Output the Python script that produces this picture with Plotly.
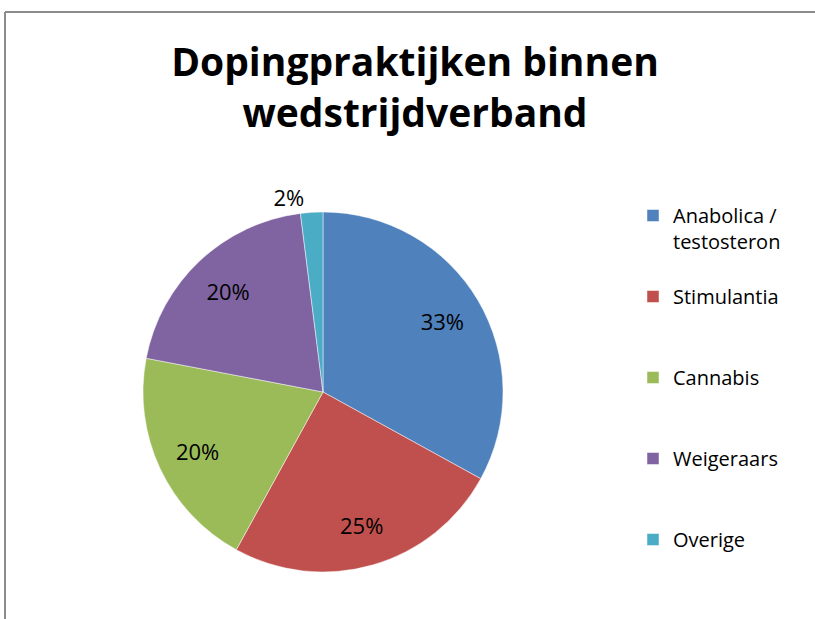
import plotly.graph_objects as go

# Data
categories = ["Anabolica / testosteron", "Stimulantia", "Cannabis", "Weigeraars", "Overige"]
legend_labels = [" <br>Anabolica /<br>testosteron", " <br>Stimulantia<br> ", " <br>Cannabis<br> ",
                 " <br>Weigeraars<br> ", " <br>Overige<br> "]
values = [33, 25, 20, 20, 2]
text_labels = ["33%", "25%", "20%", "20%", "2%"]
colors = ["#4F81BD", "#C0504D", "#9BBB59", "#8064A2", "#4BACC6"]
title_text = "Dopingpraktijken binnen<br>wedstrijdverband"

W, H = 815, 619
pie_domain = dict(x=[143 / W, 503 / W], y=[1 - 572 / H, 1 - 212 / H])

fig = go.Figure()
# coloured slices (legend source)
fig.add_trace(go.Pie(
    labels=legend_labels,
    values=values,
    textinfo="none",
    marker=dict(colors=colors, line=dict(color="rgba(255,255,255,0.6)", width=0.8)),
    sort=False,
    direction="clockwise",
    rotation=0,
    hoverinfo="skip",
    domain=pie_domain,
))
# transparent ring carrying the percentage labels
fig.add_trace(go.Pie(
    labels=legend_labels,
    values=values,
    text=text_labels,
    textinfo="text",
    textposition=["inside", "inside", "inside", "inside", "outside"],
    insidetextorientation="horizontal",
    textfont=dict(family="Open Sans", size=22, color="#000000"),
    marker=dict(colors=["rgba(0,0,0,0)"] * len(values), line=dict(width=0)),
    hole=0.54,
    sort=False,
    direction="clockwise",
    rotation=0,
    hoverinfo="skip",
    showlegend=False,
    domain=pie_domain,
))

fig.update_layout(
    width=W, height=H,
    margin=dict(l=0, r=0, t=0, b=0, autoexpand=False),
    paper_bgcolor="white",
    plot_bgcolor="white",
    title=dict(text=title_text, x=415 / W, xanchor="center", xref="container",
               y=1 - 76 / H, yanchor="top", yref="container",
               font=dict(family="Open Sans", size=39, color="#000000", weight="bold")),
    legend=dict(x=633 / W, xanchor="left", xref="paper",
                y=1 - 170 / H, yanchor="top", yref="paper",
                font=dict(family="Open Sans", size=20, color="#000000"),
                bgcolor="rgba(0,0,0,0)", itemclick=False, itemdoubleclick=False),
    showlegend=True,
    shapes=[
        dict(type="line", xref="paper", yref="paper", x0=5 / W, x1=1, y0=1 - 12 / H, y1=1 - 12 / H,
             line=dict(color="#8c8c8c", width=2)),
        dict(type="line", xref="paper", yref="paper", x0=5 / W, x1=5 / W, y0=0, y1=1 - 12 / H,
             line=dict(color="#8c8c8c", width=2)),
    ],
)

fig.write_html("out.html", config={"displayModeBar": False},
               post_script="document.body.style.margin='0';")
